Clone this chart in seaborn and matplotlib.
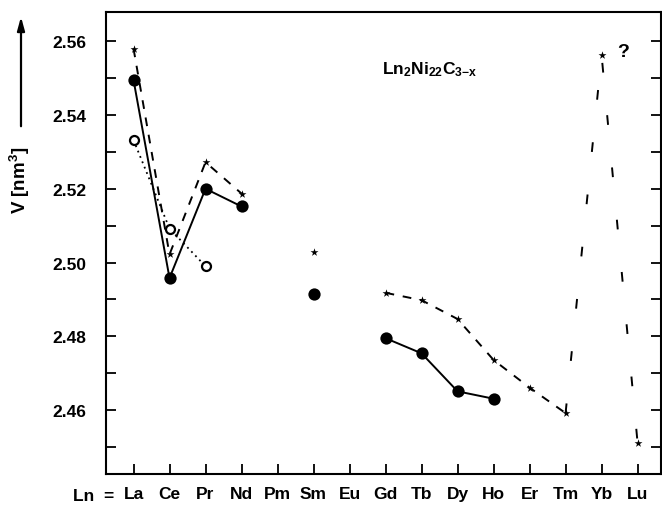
import matplotlib
matplotlib.use("Agg")
import matplotlib.pyplot as plt
import numpy as np
import pandas as pd
import seaborn as sns

# ---------------- data ----------------
elements = ['La', 'Ce', 'Pr', 'Nd', 'Pm', 'Sm', 'Eu', 'Gd', 'Tb', 'Dy', 'Ho', 'Er', 'Tm', 'Yb', 'Lu']

filled_elem = ['La', 'Ce', 'Pr', 'Nd', 'Sm', 'Gd', 'Tb', 'Dy', 'Ho']
filled_vol = [2.5495, 2.4958, 2.5200, 2.5152, 2.4914, 2.4795, 2.4754, 2.4651, 2.4631]

open_elem = ['La', 'Ce', 'Pr']
open_vol = [2.5332, 2.5092, 2.4990]

star_elem = ['La', 'Ce', 'Pr', 'Nd', 'Sm', 'Gd', 'Tb', 'Dy', 'Ho', 'Er', 'Tm', 'Yb', 'Lu']
star_vol = [2.5580, 2.5022, 2.5272, 2.5187, 2.5029, 2.4918, 2.4898, 2.4847, 2.4736, 2.4661, 2.4592, 2.5562, 2.4511]

# connected groups
filled_groups = [['La', 'Ce', 'Pr', 'Nd'], ['Gd', 'Tb', 'Dy', 'Ho']]
open_groups = [['La', 'Ce', 'Pr']]
star_groups_dense = [['La', 'Ce', 'Pr', 'Nd'], ['Gd', 'Tb', 'Dy', 'Ho', 'Er', 'Tm']]
star_groups_sparse = [['Tm', 'Yb', 'Lu']]

ytick_vals = [2.45, 2.46, 2.47, 2.48, 2.49, 2.50, 2.51, 2.52, 2.53, 2.54, 2.55, 2.56]
ytick_labels = ['', '2.46', '', '2.48', '', '2.50', '', '2.52', '', '2.54', '', '2.56']

title_text = r'$\mathbf{Ln_{2}Ni_{22}C_{3{-}x}}$'
ylabel_text = r'V [nm$^{\mathbf{3}}$]'

# ---------------- style ----------------
sns.set_style('ticks')
plt.rcParams['font.family'] = ['Liberation Sans', 'DejaVu Sans']
plt.rcParams['font.weight'] = 'bold'
plt.rcParams['mathtext.fontset'] = 'custom'
plt.rcParams['mathtext.rm'] = 'Liberation Sans:bold'
plt.rcParams['mathtext.bf'] = 'Liberation Sans:bold'
plt.rcParams['mathtext.it'] = 'Liberation Sans:bold'
for k in ['text.color', 'axes.labelcolor', 'xtick.color', 'ytick.color', 'axes.edgecolor']:
    plt.rcParams[k] = 'black'

pos = {e: i for i, e in enumerate(elements)}

fig = plt.figure(figsize=(6.62, 5.06), dpi=100)
ax = fig.add_axes([106 / 662, 31 / 506, (661 - 106) / 662, (475 - 13) / 506])


def vals(names, values, group):
    d = dict(zip(names, values))
    return pd.DataFrame({'x': [pos[g] for g in group], 'V': [d[g] for g in group]})


for g in filled_groups:
    df = vals(filled_elem, filled_vol, g)
    sns.lineplot(data=df, x='x', y='V', ax=ax, color='k', lw=1.4, sort=False, estimator=None)
for g in open_groups:
    df = vals(open_elem, open_vol, g)
    sns.lineplot(data=df, x='x', y='V', ax=ax, color='k', lw=1.3, sort=False, estimator=None,
                 linestyle=(0, (1, 2.2)))
for g in star_groups_dense:
    df = vals(star_elem, star_vol, g)
    sns.lineplot(data=df, x='x', y='V', ax=ax, color='k', lw=1.4, sort=False, estimator=None,
                 linestyle=(0, (4.5, 4.5)))
for g in star_groups_sparse:
    df = vals(star_elem, star_vol, g)
    sns.lineplot(data=df, x='x', y='V', ax=ax, color='k', lw=1.4, sort=False, estimator=None,
                 linestyle=(0, (5, 22)))

sns.scatterplot(x=[pos[e] for e in filled_elem], y=filled_vol, ax=ax, s=78, color='k',
                marker='o', linewidth=0, zorder=5)
sns.scatterplot(x=[pos[e] for e in open_elem], y=open_vol, ax=ax, s=42, facecolor='white',
                edgecolor='k', marker='o', linewidth=1.6, zorder=5)
sns.scatterplot(x=[pos[e] for e in star_elem], y=star_vol, ax=ax, s=36, color='k',
                marker='*', linewidth=0, zorder=5)

ax.set_xlim(-0.764, 14.65)
ax.set_ylim(2.4427, 2.5679)
ax.set_xticks(range(len(elements)))
ax.set_xticklabels(elements)
ax.set_yticks(ytick_vals)
ax.set_yticklabels(ytick_labels)
ax.set_xlabel('')
ax.set_ylabel('')

for s in ax.spines.values():
    s.set_visible(True)
    s.set_linewidth(1.5)
    s.set_color('k')

ax.tick_params(axis='both', direction='in', length=7, width=1.3, colors='k', labelsize=12.5)
ax.tick_params(axis='y', right=True, left=True, pad=14)
ax.tick_params(axis='x', top=False, pad=9)
for lab in ax.get_xticklabels() + ax.get_yticklabels():
    lab.set_fontweight('bold')

ax.text((430 - 133.5) / 36, 2.5525, title_text, fontsize=12.5, ha='center', va='center')
ax.text(13.6, 2.5572, '?', fontsize=14, ha='center', va='center', fontweight='bold')

fig.text(73 / 662, 1 - 497 / 506, 'Ln  =', fontsize=12.5, fontweight='bold', ha='left', va='center')
fig.text(20 / 662, 1 - 180 / 506, ylabel_text, fontsize=13.5, fontweight='bold', rotation=90,
         ha='center', va='center')
ax.annotate('', xy=(21, 506 - 15), xytext=(21, 506 - 130), xycoords='figure pixels',
            textcoords='figure pixels',
            arrowprops=dict(arrowstyle='-|>,head_length=0.8,head_width=0.22', color='k', lw=1.6))

fig.savefig('out.png', dpi=100)
